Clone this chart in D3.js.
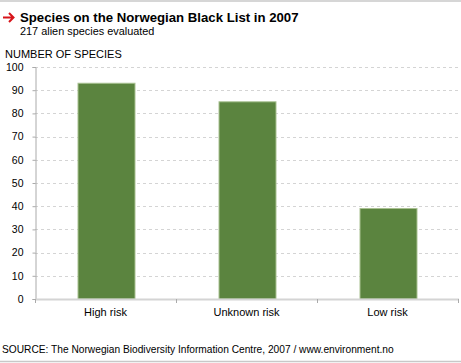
<!DOCTYPE html>
<html>
<head>
<meta charset="utf-8">
<script src="https://cdn.jsdelivr.net/npm/d3@7"></script>
<style>
  body { margin: 0; background: #fff; }
  svg { display: block; font-family: "Liberation Sans", Arial, sans-serif; }
</style>
</head>
<body>
<div id="chart"></div>
<script>
const categories = ["High risk", "Unknown risk", "Low risk"];
const speciesCount = [93, 85, 39];
const yTicks = [0, 10, 20, 30, 40, 50, 60, 70, 80, 90, 100];

const width = 461, height = 363;
const plotLeft = 35, plotRight = 458, plotTop = 67, plotBottom = 299;

const svg = d3.select("#chart")
  .append("svg")
  .attr("width", width)
  .attr("height", height);

// frame lines top and bottom
svg.append("line")
  .attr("x1", 0).attr("x2", width).attr("y1", 1).attr("y2", 1)
  .attr("stroke", "#c8c8c8").attr("stroke-width", 1.5);
svg.append("line")
  .attr("x1", 0).attr("x2", width).attr("y1", 361.5).attr("y2", 361.5)
  .attr("stroke", "#c8c8c8").attr("stroke-width", 1.5);

// title
svg.append("path")
  .attr("d", "M3,17.5 H13 M9,13 L13.5,17.5 L9,22")
  .attr("fill", "none").attr("stroke", "#d7141a").attr("stroke-width", 2);
svg.append("text")
  .attr("x", 20).attr("y", 22)
  .attr("font-size", 13.2).attr("font-weight", "bold").attr("fill", "#000")
  .text("Species on the Norwegian Black List in 2007");
svg.append("text")
  .attr("x", 20).attr("y", 35)
  .attr("font-size", 10.9).attr("fill", "#000")
  .text("217 alien species evaluated");
svg.append("text")
  .attr("x", 5).attr("y", 57.5)
  .attr("font-size", 11).attr("fill", "#000")
  .text("NUMBER OF SPECIES");

const y = d3.scaleLinear().domain([0, 100]).range([plotBottom, plotTop]);
const x = d3.scaleBand().domain(categories).range([plotLeft, plotRight]).paddingInner(0).paddingOuter(0);

// gridlines
svg.append("g")
  .selectAll("line")
  .data(yTicks.filter(d => d > 0))
  .enter()
  .append("line")
  .attr("x1", plotLeft).attr("x2", width)
  .attr("y1", d => Math.round(y(d)) + 0.5)
  .attr("y2", d => Math.round(y(d)) + 0.5)
  .attr("stroke", "#d4d4d4")
  .attr("stroke-dasharray", "3,3");

// y axis
const yAxis = svg.append("g")
  .attr("transform", `translate(${plotLeft + 0.5},0)`)
  .call(d3.axisLeft(y).tickValues(yTicks).tickSize(3).tickPadding(9));
yAxis.select(".domain").attr("stroke", "#aaa");
yAxis.selectAll(".tick line").attr("stroke", "#aaa");
yAxis.selectAll(".tick text")
  .attr("font-size", 10.5).attr("fill", "#000")
  .attr("font-family", "Liberation Sans, Arial, sans-serif");

// bars
const barW = 57;
svg.append("g")
  .selectAll("rect")
  .data(speciesCount)
  .enter()
  .append("rect")
  .attr("x", (d, i) => x(categories[i]) + x.bandwidth() / 2 - barW / 2 + 1)
  .attr("y", d => y(d))
  .attr("width", barW)
  .attr("height", d => plotBottom - y(d))
  .attr("fill", "#5b843f")
  .attr("stroke", "#a9c191")
  .attr("stroke-width", 1);

// x axis
svg.append("line")
  .attr("x1", plotLeft).attr("x2", plotRight + 1)
  .attr("y1", plotBottom + 0.5).attr("y2", plotBottom + 0.5)
  .attr("stroke", "#d4d4d4").attr("stroke-width", 2);
svg.append("g")
  .selectAll("line")
  .data([plotLeft, plotRight].concat(categories.slice(1).map(c => x(c))))
  .enter()
  .append("line")
  .attr("x1", d => Math.round(d) + 0.5).attr("x2", d => Math.round(d) + 0.5)
  .attr("y1", plotBottom).attr("y2", plotBottom + 4)
  .attr("stroke", "#aaa");
svg.append("g")
  .selectAll("text")
  .data(categories)
  .enter()
  .append("text")
  .attr("x", d => x(d) + x.bandwidth() / 2)
  .attr("y", 316)
  .attr("text-anchor", "middle")
  .attr("font-size", 11).attr("fill", "#000")
  .text(d => d);

// source
svg.append("text")
  .attr("x", 2).attr("y", 352.5)
  .attr("font-size", 10.2).attr("fill", "#000")
  .text("SOURCE: The Norwegian Biodiversity Information Centre, 2007 / www.environment.no");
</script>
</body>
</html>
